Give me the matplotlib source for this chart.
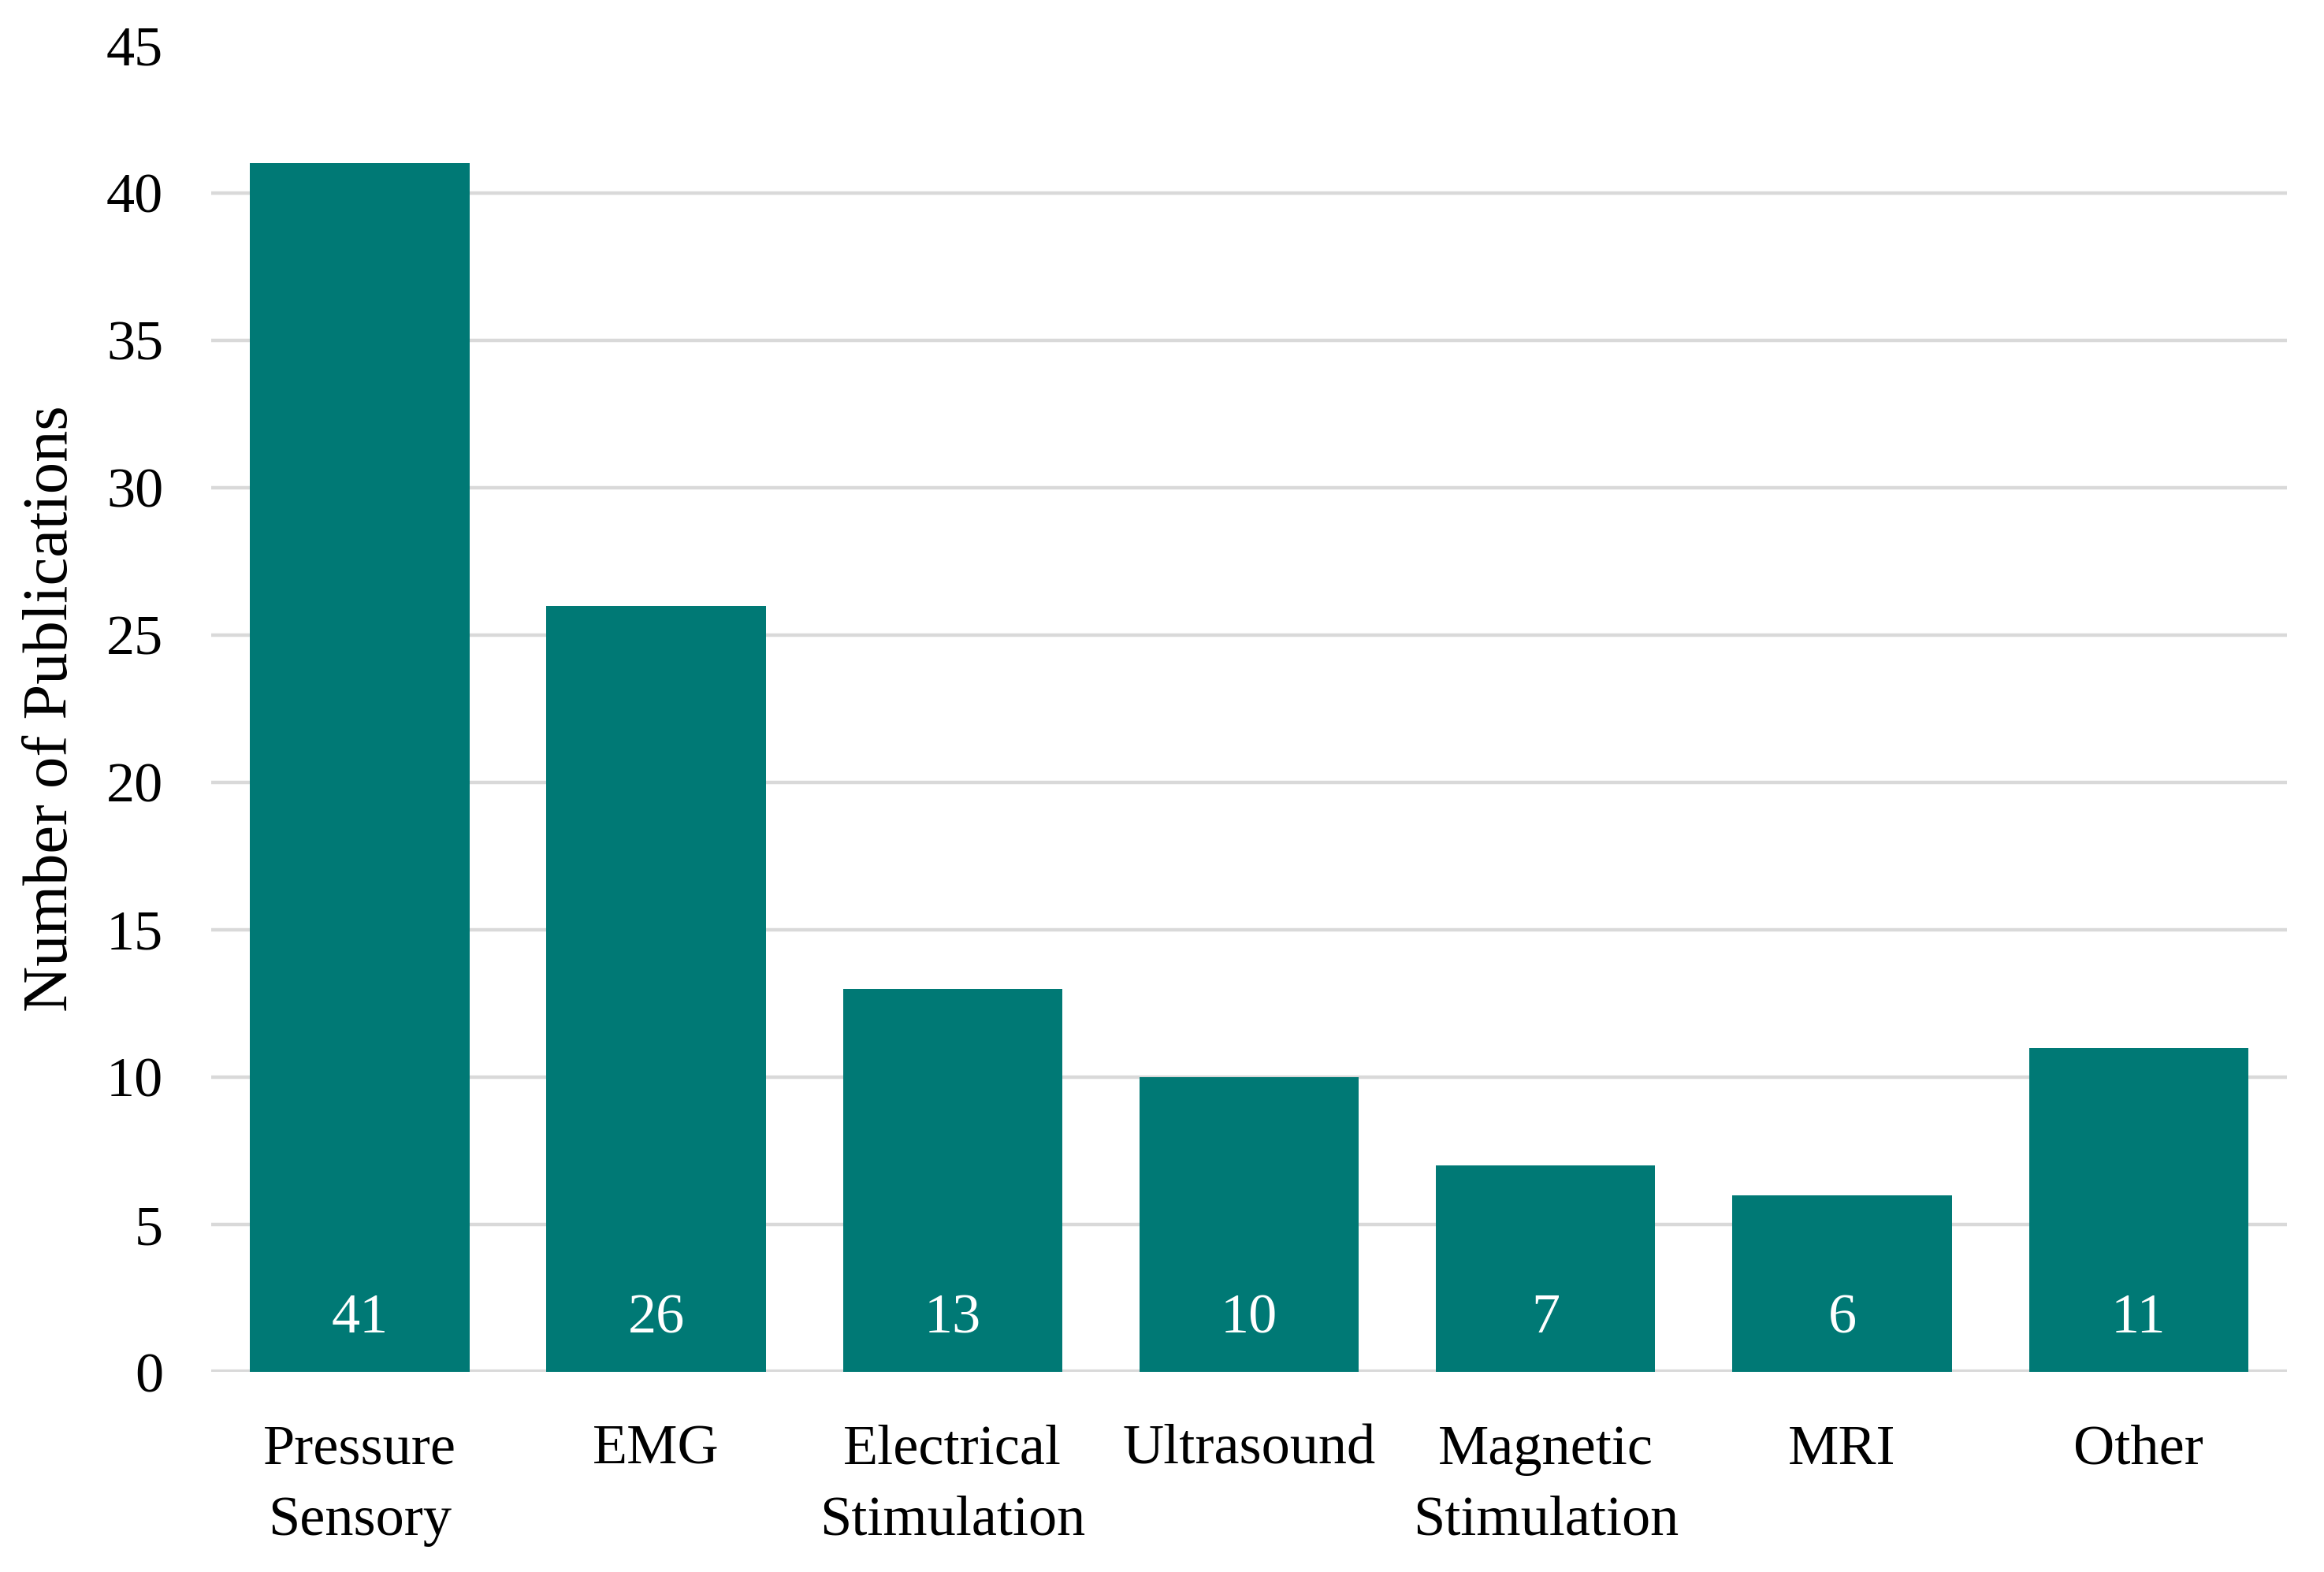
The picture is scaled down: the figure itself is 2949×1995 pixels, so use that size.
import matplotlib.pyplot as plt

categories = ["Pressure\nSensory", "EMG", "Electrical\nStimulation", "Ultrasound",
              "Magnetic\nStimulation", "MRI", "Other"]
counts = [41, 26, 13, 10, 7, 6, 11]
y_ticks = [0, 5, 10, 15, 20, 25, 30, 35, 40, 45]

bar_color = "#007975"
grid_color = "#d9d9d9"

plt.rcParams['font.family'] = ['Liberation Serif', 'DejaVu Serif']


def main():
    fig = plt.figure(figsize=[14.745, 9.975], dpi=200)
    ax = fig.add_axes([0.091, 0.1273, 0.893, 0.8437])

    x = range(len(categories))
    ax.bar(x, counts, width=0.74, color=bar_color, zorder=3)

    # value labels near the bottom of each bar
    for i, v in enumerate(counts):
        ax.text(i, 1.8, str(v), ha="center", va="center", color="white",
                fontsize=26, zorder=4)

    ax.set_xlim(-0.5, len(categories) - 0.5)
    ax.set_ylim(0, 45)
    ax.set_yticks(y_ticks)
    ax.set_xticks(list(x))
    ax.set_xticklabels(categories, fontsize=26, linespacing=1.5)
    ax.tick_params(axis="y", labelsize=26, length=0, pad=22)
    ax.tick_params(axis="x", length=0, pad=24)

    ax.grid(axis="y", color=grid_color, linewidth=1.6, zorder=0)
    ax.get_ygridlines()[-1].set_visible(False)
    ax.get_ygridlines()[0].set_linewidth(2.2)

    for side in ["top", "right", "left", "bottom"]:
        ax.spines[side].set_visible(False)

    ax.set_ylabel("Number of Publications", fontsize=29, labelpad=12)

    plt.savefig("out.png", dpi=200)
    plt.close()


if __name__ == "__main__":
    main()
